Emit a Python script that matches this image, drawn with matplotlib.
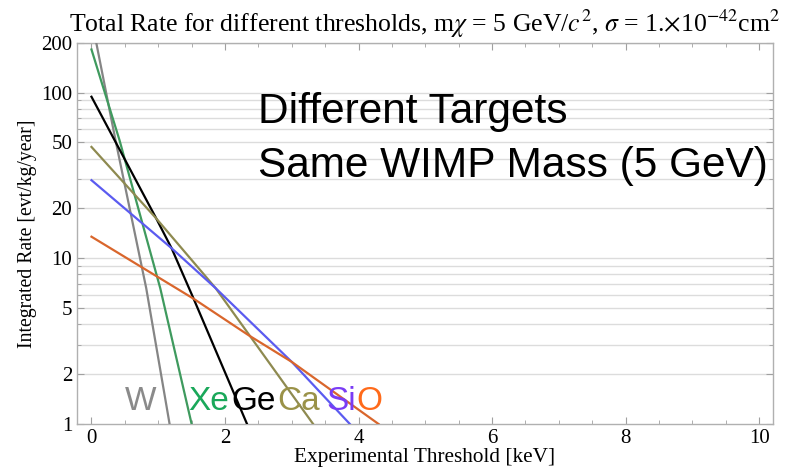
import matplotlib
matplotlib.use("Agg")
import matplotlib.pyplot as plt
from matplotlib.ticker import FixedLocator, NullFormatter, MultipleLocator

plt.rcParams['mathtext.fontset'] = 'stix'
SERIF = 'Liberation Serif'
SANS = 'Liberation Sans'

# Data (threshold in keV, integrated rate in evt/kg/year)
w_x = [0.0, 0.36, 0.82, 1.17]
w_y = [280, 51.6, 6.6, 1.0]
xe_x = [0.0, 0.42, 1.03, 1.50]
xe_y = [182, 51.6, 6.6, 1.0]
ge_x = [0.0, 0.97, 1.20, 1.53, 2.33]
ge_y = [94.4, 17.4, 11.5, 5.7, 1.0]
ca_x = [0.0, 0.97, 1.86, 3.32]
ca_y = [47.0, 17.4, 6.6, 1.0]
si_x = [0.0, 1.20, 1.86, 3.00, 3.87]
si_y = [29.6, 11.5, 6.6, 2.37, 1.0]
o_x = [0.0, 1.53, 2.35, 3.00, 4.30]
o_y = [13.5, 5.7, 3.44, 2.37, 1.0]

series_names = ['W', 'Xe', 'Ge', 'Ca', 'Si', 'O']
line_colors = ['#858585', '#3f9a5e', '#000000', '#8e8a50', '#5b5bf0', '#d9662c']
label_colors = ['#8a8a8a', '#1aa85a', '#000000', '#9a9248', '#7a3cf5', '#ff6a1a']
label_x = [0.50, 1.45, 2.10, 2.79, 3.52, 3.97]

x_ticks = [0, 2, 4, 6, 8, 10]
y_ticks = [1, 2, 5, 10, 20, 50, 100, 200]
y_grid = [2, 3, 4, 5, 6, 7, 8, 9, 10, 20, 30, 40, 50, 60, 70, 80, 90, 100, 200]

fig = plt.figure(figsize=(8.02, 4.72), dpi=100)
ax = fig.add_axes([0.096, 0.1017, 0.868, 0.8078])
ax.set_yscale('log')
ax.set_xlim(-0.217, 10.21)
ax.set_ylim(1, 200)

for yv in y_grid:
    ax.axhline(yv, color='#dcdcdc', lw=1.0, zorder=0)

data = [(w_x, w_y), (xe_x, xe_y), (ge_x, ge_y), (ca_x, ca_y), (si_x, si_y), (o_x, o_y)]
for (xs, ys), c in zip(data, line_colors):
    ax.plot(xs, ys, color=c, lw=1.6, zorder=3, clip_on=True)

for name, c, lx in zip(series_names, label_colors, label_x):
    ax.text(lx, 1.21, name, color=c, fontsize=24, family=SANS,
            va='baseline', ha='left', zorder=4)

ax.text(2.5, 65.5, 'Different Targets', fontsize=30.5, family=SANS,
        va='baseline', ha='left', zorder=4)
ax.text(2.5, 31.0, 'Same WIMP Mass (5 GeV)', fontsize=30.5, family=SANS,
        va='baseline', ha='left', zorder=4, clip_on=False)

ax.xaxis.set_major_locator(FixedLocator(x_ticks))
ax.xaxis.set_minor_locator(MultipleLocator(0.5))
ax.yaxis.set_major_locator(FixedLocator(y_ticks))
ax.yaxis.set_minor_locator(FixedLocator([3, 4, 6, 7, 8, 9, 30, 40, 60, 70, 80, 90]))
ax.yaxis.set_minor_formatter(NullFormatter())
ax.set_yticklabels([str(v) for v in y_ticks])
ax.set_xticklabels([str(v) for v in x_ticks])
ax.tick_params(which='both', direction='in', top=True, right=True, color='#a0a0a0')
ax.tick_params(which='major', length=5, labelsize=15)
ax.tick_params(which='minor', length=3)
for lab in ax.get_xticklabels() + ax.get_yticklabels():
    lab.set_family(SERIF)
for s in ax.spines.values():
    s.set_color('#b0b0b0')
    s.set_linewidth(1.0)

ax.set_xlabel('Experimental Threshold [keV]', fontsize=15.3, family=SERIF, labelpad=0)
ax.set_ylabel('Integrated Rate [evt/kg/year]', fontsize=14.2, family=SERIF, labelpad=3)
ax.set_title(r'Total Rate for different thresholds, m$\chi$ = 5 GeV/$c^2$, $\sigma$ = 1.$\times$10$^{-42}$cm$^2$',
             fontsize=18.5, family=SERIF, pad=8, x=0.5)

fig.savefig('out.png', dpi=100)
